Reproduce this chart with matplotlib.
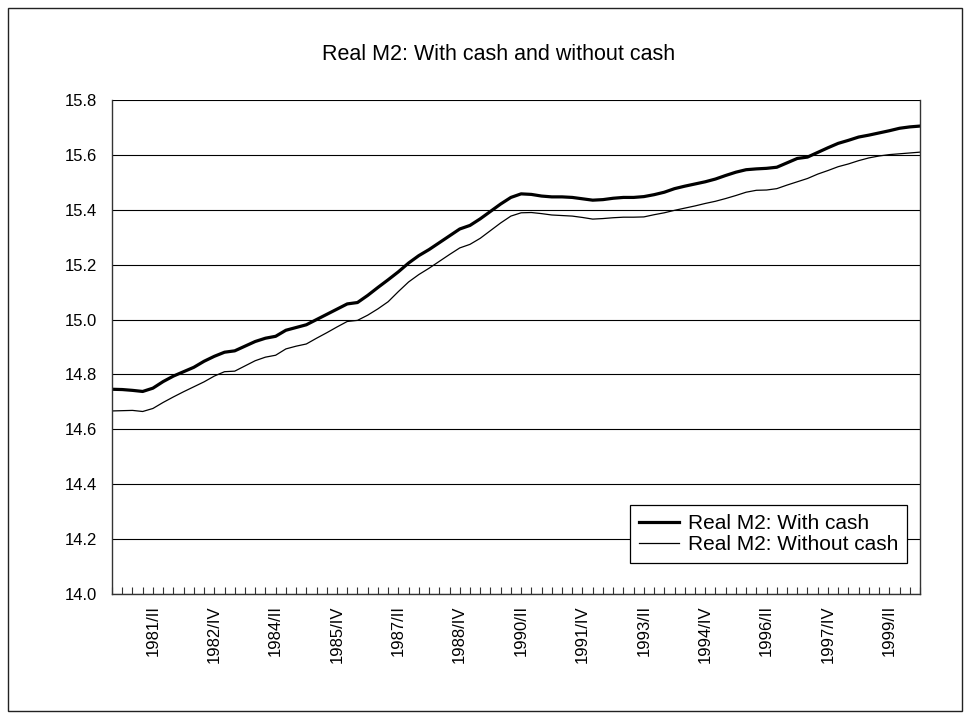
import matplotlib
matplotlib.use("Agg")
import matplotlib.pyplot as plt
from matplotlib.patches import Rectangle

plt.rcParams['font.family'] = ['Liberation Sans', 'DejaVu Sans']

# Quarterly categories 1980/II .. 2000/I
roman = ["I", "II", "III", "IV"]
quarters = []
y, q = 1980, 1
for _ in range(80):
    quarters.append(f"{y}/{roman[q]}")
    q += 1
    if q == 4:
        q = 0
        y += 1

with_cash = [
    14.746, 14.745, 14.742, 14.738, 14.750, 14.774, 14.794, 14.810, 14.826, 14.848,
    14.866, 14.881, 14.886, 14.903, 14.920, 14.932, 14.939, 14.961, 14.971, 14.981,
    15.000, 15.019, 15.038, 15.057, 15.062, 15.088, 15.117, 15.145, 15.174, 15.206,
    15.233, 15.255, 15.280, 15.305, 15.330, 15.343, 15.367, 15.394, 15.421, 15.445,
    15.458, 15.456, 15.450, 15.447, 15.447, 15.445, 15.440, 15.435, 15.437, 15.442,
    15.445, 15.445, 15.448, 15.455, 15.464, 15.477, 15.486, 15.494, 15.502, 15.512,
    15.525, 15.537, 15.546, 15.549, 15.551, 15.555, 15.571, 15.587, 15.592, 15.609,
    15.626, 15.642, 15.653, 15.665, 15.672, 15.680, 15.688, 15.697, 15.702, 15.705,
]

without_cash = [
    14.667, 14.668, 14.669, 14.665, 14.676, 14.698, 14.718, 14.737, 14.755, 14.773,
    14.794, 14.810, 14.812, 14.831, 14.850, 14.863, 14.870, 14.893, 14.903, 14.911,
    14.932, 14.952, 14.973, 14.993, 14.997, 15.016, 15.039, 15.065, 15.102, 15.137,
    15.164, 15.187, 15.212, 15.237, 15.261, 15.274, 15.296, 15.324, 15.352, 15.377,
    15.389, 15.390, 15.386, 15.381, 15.379, 15.377, 15.372, 15.366, 15.368, 15.371,
    15.373, 15.373, 15.374, 15.382, 15.389, 15.398, 15.406, 15.414, 15.423, 15.431,
    15.441, 15.452, 15.464, 15.471, 15.472, 15.477, 15.490, 15.502, 15.514, 15.530,
    15.543, 15.557, 15.567, 15.579, 15.589, 15.596, 15.601, 15.604, 15.607, 15.610,
]

tick_labels = ["1981/II", "1982/IV", "1984/II", "1985/IV", "1987/II", "1988/IV",
               "1990/II", "1991/IV", "1993/II", "1994/IV", "1996/II", "1997/IV",
               "1999/II"]
y_ticks = [14.0, 14.2, 14.4, 14.6, 14.8, 15.0, 15.2, 15.4, 15.6, 15.8]

title = "Real M2: With cash and without cash"
label_with = "Real M2: With cash"
label_without = "Real M2: Without cash"

W, H = 971, 720
fig = plt.figure(figsize=(W / 100, H / 100), dpi=100)
fig.patch.set_facecolor("white")

# outer frame
fig.patches.append(Rectangle((8 / W, 1 - 711 / H), (962 - 8) / W, (711 - 8) / H,
                             transform=fig.transFigure, fill=False,
                             edgecolor="#222222", linewidth=1.0))

ax = fig.add_axes([112 / W, 1 - 594 / H, (920 - 112) / W, (594 - 100) / H])

x = list(range(len(quarters)))
ax.plot(x, with_cash, color="black", linewidth=2.3, label=label_with,
        solid_joinstyle="round")
ax.plot(x, without_cash, color="black", linewidth=0.9, label=label_without)

ax.set_xlim(0, len(quarters) - 1)
ax.set_ylim(14.0, 15.8)
ax.set_yticks(y_ticks)
ax.set_yticklabels([f"{v:.1f}" for v in y_ticks], fontsize=12)
ax.tick_params(axis="y", length=0, pad=11)

ax.set_xticks(x, minor=True)
ax.set_xticks([quarters.index(t) for t in tick_labels])
ax.set_xticklabels(tick_labels, rotation=90, fontsize=12)
ax.tick_params(axis="x", which="both", direction="in", length=5, width=0.8,
               color="#333333", pad=8)

ax.grid(axis="y", color="black", linewidth=0.8)
ax.set_axisbelow(True)
for side in ["left", "bottom", "right"]:
    ax.spines[side].set_color("#333333")
    ax.spines[side].set_linewidth(1.0)
ax.spines["top"].set_visible(False)

fig.text(499 / W, 1 - 55 / H, title, ha="center", va="center", fontsize=15.5)

leg = ax.legend(loc="lower right", bbox_to_anchor=(0.984, 0.0628),
                fontsize=15, frameon=True, fancybox=False, framealpha=1,
                edgecolor="black", handlelength=1.9, handletextpad=0.45,
                borderpad=0.42, labelspacing=0.1, borderaxespad=0)
leg.get_frame().set_linewidth(0.9)

fig.savefig("out.png", dpi=100)
